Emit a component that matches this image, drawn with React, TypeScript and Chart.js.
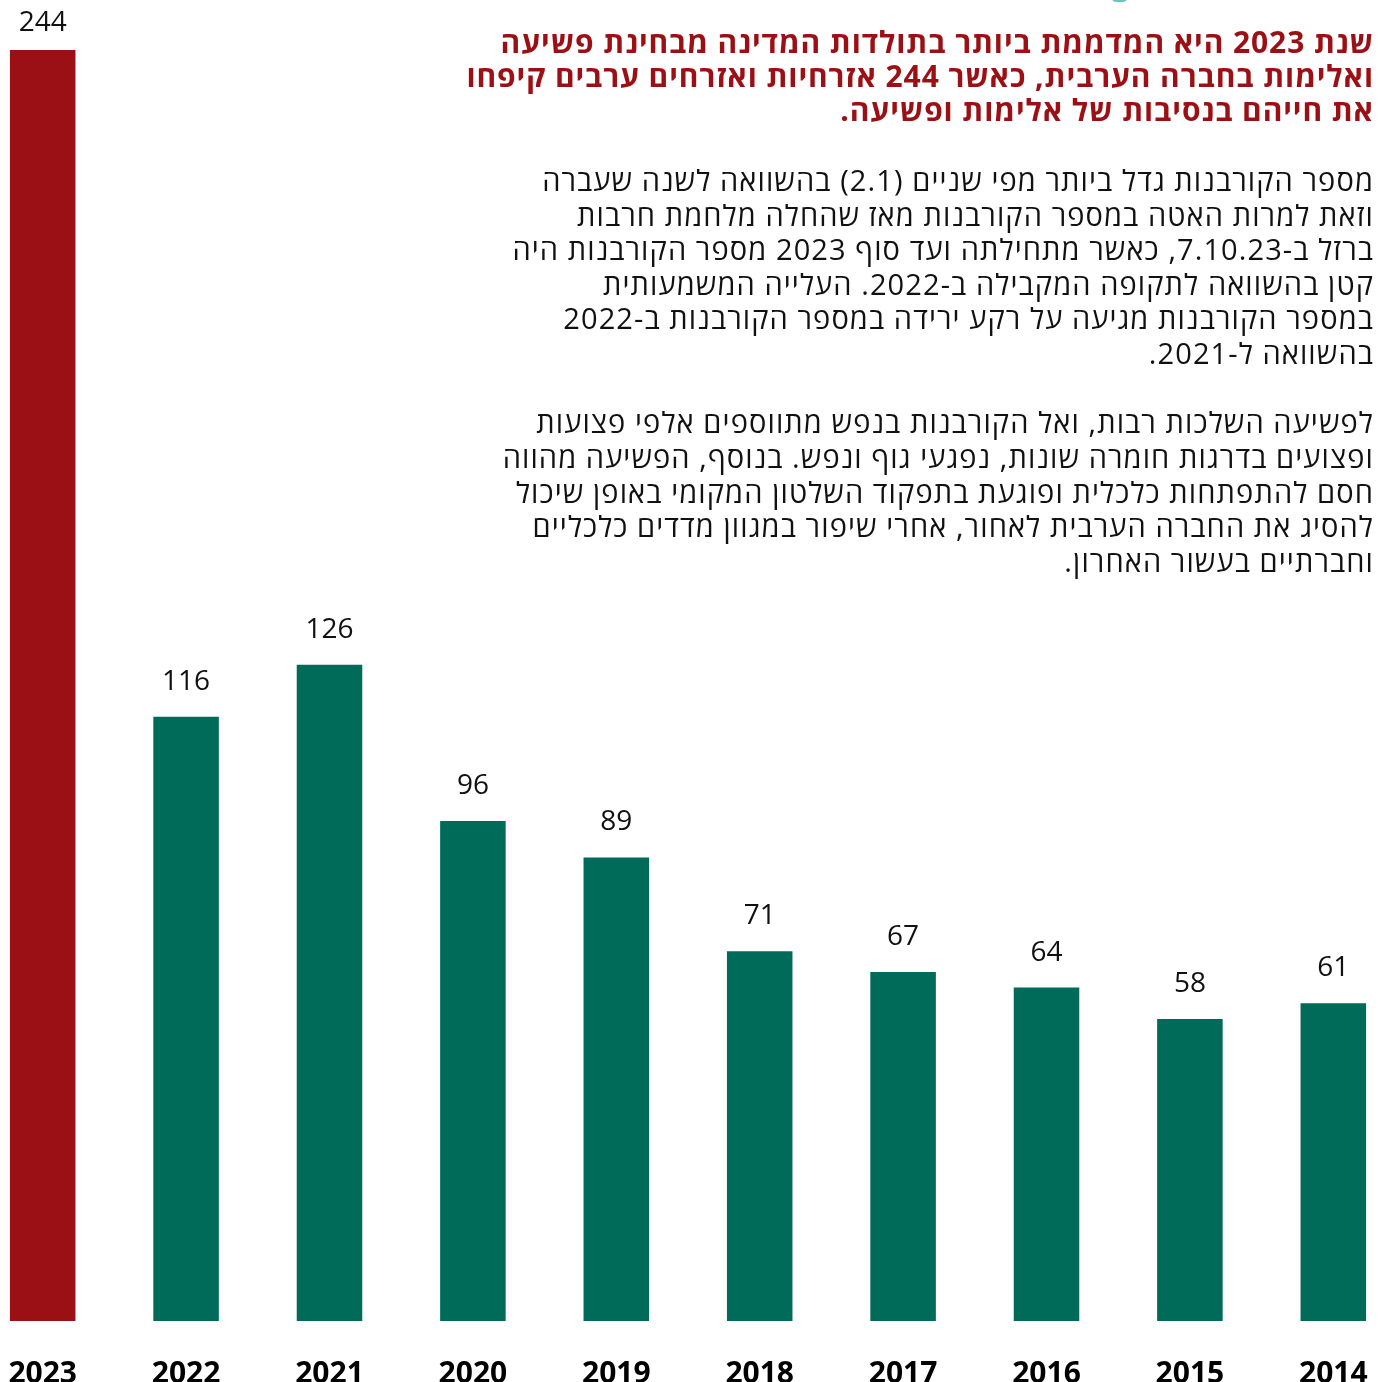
import React, { useEffect, useRef } from 'react';
import { Chart, registerables } from 'chart.js';

Chart.register(...registerables);

const years = ['2023', '2022', '2021', '2020', '2019', '2018', '2017', '2016', '2015', '2014'];
const victims = [244, 116, 126, 96, 89, 71, 67, 64, 58, 61];
const highlightYear = '2023';

const titleLines = [
  'שנת 2023 היא המדממת ביותר בתולדות המדינה מבחינת פשיעה',
  'ואלימות בחברה הערבית, כאשר 244 אזרחיות ואזרחים ערבים קיפחו',
  'את חייהם בנסיבות של אלימות ופשיעה.',
];

const paragraph1 = [
  'מספר הקורבנות גדל ביותר מפי שניים (2.1) בהשוואה לשנה שעברה',
  'וזאת למרות האטה במספר הקורבנות מאז שהחלה מלחמת חרבות',
  'ברזל ב-7.10.23, כאשר מתחילתה ועד סוף 2023 מספר הקורבנות היה',
  'קטן בהשוואה לתקופה המקבילה ב-2022. העלייה המשמעותית',
  'במספר הקורבנות מגיעה על רקע ירידה במספר הקורבנות ב-2022',
  'בהשוואה ל-2021.',
];

const paragraph2 = [
  'לפשיעה השלכות רבות, ואל הקורבנות בנפש מתווספים אלפי פצועות',
  'ופצועים בדרגות חומרה שונות, נפגעי גוף ונפש. בנוסף, הפשיעה מהווה',
  'חסם להתפתחות כלכלית ופוגעת בתפקוד השלטון המקומי באופן שיכול',
  'להסיג את החברה הערבית לאחור, אחרי שיפור במגוון מדדים כלכליים',
  'וחברתיים בעשור האחרון.',
];

const RED = '#9b1014';
const TEAL = '#006b58';
const FONT = '"Open Sans", "Noto Sans", "DejaVu Sans", sans-serif';

const valueLabels = {
  id: 'valueLabels',
  afterDatasetsDraw(chart: any) {
    const ctx = chart.ctx;
    const meta = chart.getDatasetMeta(0);
    ctx.save();
    ctx.font = '400 28px "Open Sans", sans-serif';
    ctx.fillStyle = '#111';
    ctx.textAlign = 'center';
    ctx.textBaseline = 'middle';
    meta.data.forEach((bar: any, i: number) => {
      const y = Math.max(bar.y - 35, 23);
      ctx.fillText(String(victims[i]), bar.x, y);
    });
    ctx.restore();
  },
};

function Lines({ lines, top, lineHeight, size, weight, color, spacing }: any) {
  return (
    <div
      style={{
        position: 'absolute',
        right: 7,
        top,
        direction: 'rtl',
        textAlign: 'right',
        fontFamily: FONT,
        fontSize: size,
        fontWeight: weight,
        color,
        letterSpacing: spacing,
        lineHeight: lineHeight + 'px',
        whiteSpace: 'nowrap',
      }}
    >
      {lines.map((l: string, i: number) => (
        <div key={i}>{l}</div>
      ))}
    </div>
  );
}

export default function App() {
  const ref = useRef<HTMLCanvasElement>(null);

  useEffect(() => {
    if (!ref.current) return;
    const chart = new Chart(ref.current, {
      type: 'bar',
      data: {
        labels: years,
        datasets: [
          {
            data: victims,
            backgroundColor: years.map((y) => (y === highlightYear ? RED : TEAL)),
            barPercentage: 0.457,
            categoryPercentage: 1,
          },
        ],
      },
      options: {
        animation: false,
        responsive: false,
        layout: { padding: { top: 50, left: 0, right: 0, bottom: 0 } },
        plugins: {
          legend: { display: false },
          tooltip: { enabled: false },
          title: { display: false },
        },
        scales: {
          x: {
            grid: { display: false, drawTicks: false },
            border: { display: false },
            ticks: {
              color: '#000',
              font: { family: '"Open Sans", sans-serif', weight: 'bold', size: 30 },
              padding: 35,
              autoSkip: false,
              maxRotation: 0,
            },
            afterFit: (s: any) => {
              s.height = 61;
            },
          },
          y: { display: false, min: 0, max: 244 },
        },
      },
      plugins: [valueLabels],
    });
    return () => chart.destroy();
  }, []);

  return (
    <div
      style={{
        position: 'absolute',
        left: 0,
        top: 0,
        width: 1381,
        height: 1382,
        overflow: 'hidden',
        background: '#fff',
      }}
    >
      <div
        style={{
          position: 'absolute',
          left: 1112,
          top: -6,
          width: 15,
          height: 8,
          borderRadius: 4,
          background: '#6cc5b5',
        }}
      />
      <div style={{ position: 'absolute', left: -29, top: 0 }}>
        <canvas ref={ref} width={1434} height={1382} style={{ width: 1434, height: 1382, display: 'block' }} />
      </div>
      <Lines lines={titleLines} top={25} lineHeight={34} size={30} weight={700} color={RED} spacing="0.9px" />
      <Lines lines={paragraph1} top={163} lineHeight={34.6} size={29} weight={400} color="#111" spacing="1.1px" />
      <Lines lines={paragraph2} top={405} lineHeight={34.8} size={29} weight={400} color="#111" spacing="1.1px" />
    </div>
  );
}
